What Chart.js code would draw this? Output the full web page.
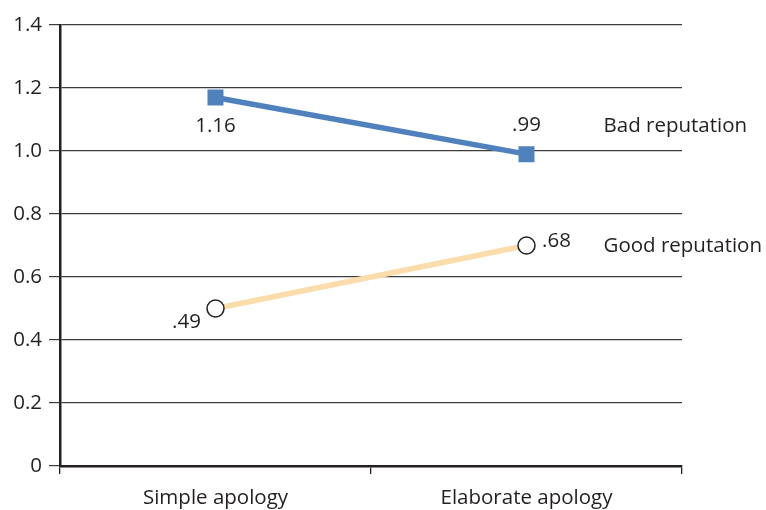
<!DOCTYPE html>
<html>
<head>
<meta charset="utf-8">
<script src="https://cdn.jsdelivr.net/npm/chart.js@4/dist/chart.umd.min.js"></script>
<style>
html,body{margin:0;padding:0;background:#fff;}
#wrap{width:766px;height:510px;position:relative;}
</style>
</head>
<body>
<div id="wrap"><canvas id="c"></canvas></div>
<script>
// ---- data ----
const categories = ['Simple apology', 'Elaborate apology'];
const seriesNames = ['Bad reputation', 'Good reputation'];
const badValues = [1.17, 0.99];
const goodValues = [0.50, 0.70];
const badLabels = ['1.16', '.99'];
const goodLabels = ['.49', '.68'];
const yTicks = [0, 0.2, 0.4, 0.6, 0.8, 1.0, 1.2, 1.4];

// ---- styles ----
const FONT = '"Open Sans", "Noto Sans", sans-serif';
const FSIZE = 20.5;
const TEXT = '#231f20';
const labelOffsets = [
  [[0, 29], [0, -29]],
  [[-29, 14], [30, -4]]
];
const nameOffsets = [[77, -28], [77, 1]];

const endLabels = {
  id: 'endLabels',
  afterDatasetsDraw(chart) {
    const ctx = chart.ctx;
    ctx.save();
    ctx.font = FSIZE + 'px ' + FONT;
    ctx.fillStyle = TEXT;
    ctx.textBaseline = 'middle';
    const labelSets = [badLabels, goodLabels];
    chart.data.datasets.forEach((ds, di) => {
      const meta = chart.getDatasetMeta(di);
      meta.data.forEach((pt, i) => {
        const off = labelOffsets[di][i];
        ctx.textAlign = 'center';
        ctx.fillText(labelSets[di][i], pt.x + off[0], pt.y + off[1]);
      });
      const last = meta.data[meta.data.length - 1];
      ctx.textAlign = 'left';
      ctx.fillText(seriesNames[di], last.x + nameOffsets[di][0], last.y + nameOffsets[di][1]);
    });
    ctx.restore();
  }
};

new Chart(document.getElementById('c'), {
  type: 'line',
  data: {
    labels: categories,
    datasets: [
      {
        label: seriesNames[0],
        data: badValues,
        borderColor: '#4f81bd',
        backgroundColor: '#4f81bd',
        borderWidth: 5.5,
        pointStyle: 'rect',
        pointRadius: 11.3,
        pointBorderWidth: 0,
        pointBackgroundColor: '#4f81bd',
        tension: 0
      },
      {
        label: seriesNames[1],
        data: goodValues,
        borderColor: '#fbdcab',
        backgroundColor: '#fff',
        borderWidth: 5.5,
        pointStyle: 'circle',
        pointRadius: 8.5,
        pointBorderWidth: 1.5,
        pointBorderColor: TEXT,
        pointBackgroundColor: '#fff',
        tension: 0
      }
    ]
  },
  options: {
    responsive: true,
    maintainAspectRatio: false,
    animation: false,
    layout: { padding: { top: 25, right: 84, left: 0, bottom: 0 } },
    plugins: { legend: { display: false }, tooltip: { enabled: false } },
    scales: {
      x: {
        offset: true,
        grid: { offset: true, drawOnChartArea: false, drawTicks: true, tickLength: 8, color: TEXT, lineWidth: 1.3 },
        border: { display: true, color: TEXT, width: 2.5 },
        ticks: { color: TEXT, font: { size: FSIZE, family: FONT }, padding: 12 },
        afterFit(s) { s.height = 44; }
      },
      y: {
        min: 0, max: 1.4,
        afterBuildTicks(s) { s.ticks = yTicks.map(v => ({ value: v })); },
        grid: { color: '#3c3c3c', lineWidth: 1.2, tickLength: 11, drawTicks: true },
        border: { display: true, color: TEXT, width: 2.5 },
        ticks: {
          color: TEXT, font: { size: FSIZE, family: FONT }, padding: 7,
          callback: v => v === 0 ? '0' : v.toFixed(1)
        },
        afterFit(s) { s.width = 60; }
      }
    }
  },
  plugins: [endLabels]
});
</script>
</body>
</html>
